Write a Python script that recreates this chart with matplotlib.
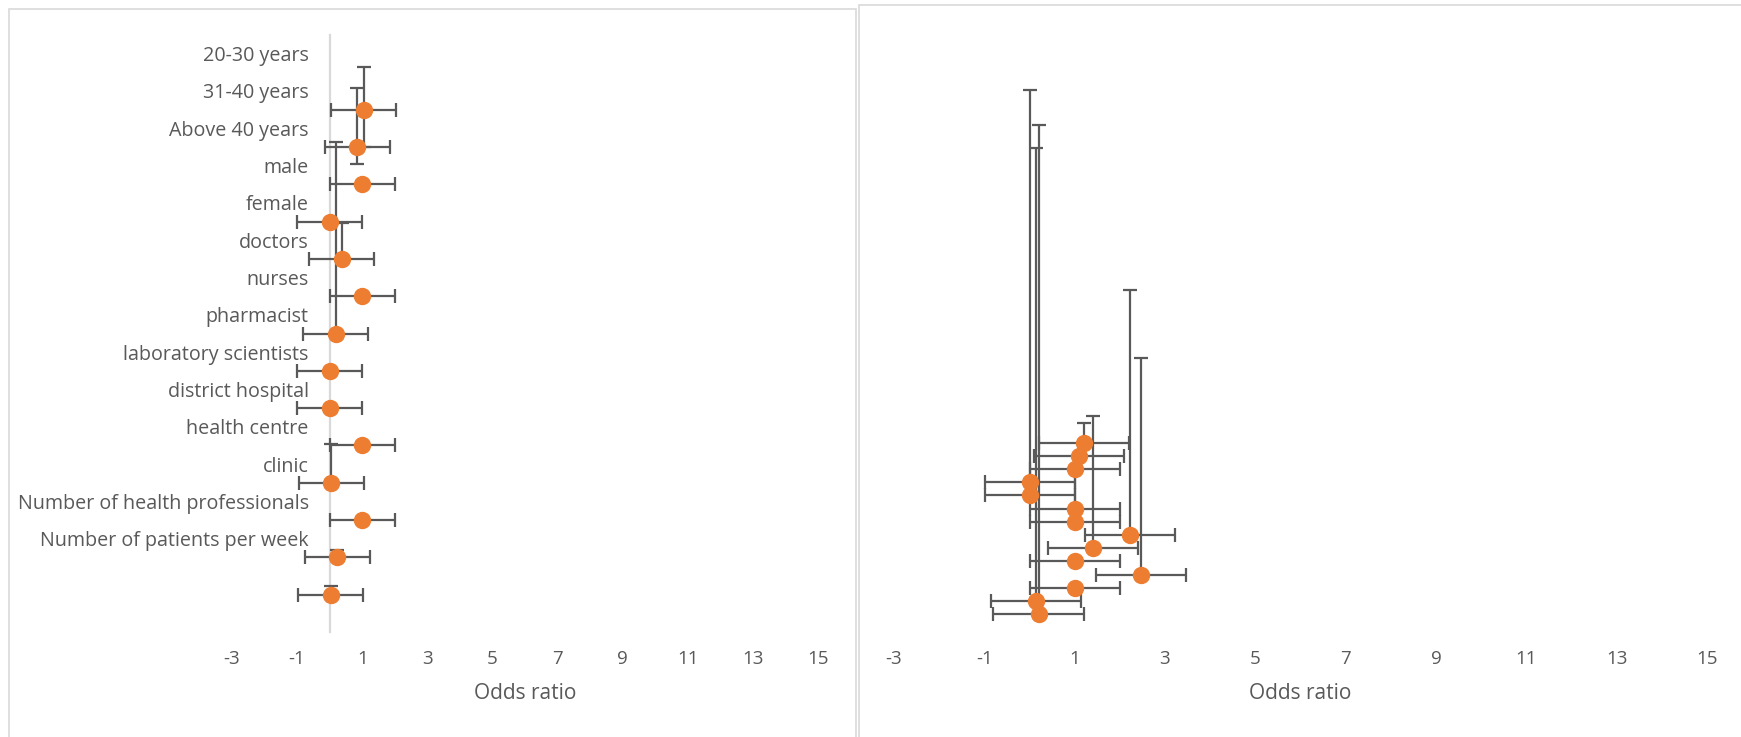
import matplotlib
matplotlib.use('Agg')
import matplotlib.pyplot as plt
from matplotlib.patches import Rectangle
import numpy as np

plt.rcParams['font.family'] = ['Open Sans', 'DejaVu Sans']
plt.rcParams['axes.unicode_minus'] = False

categories = ['20-30 years', '31-40 years', 'Above 40 years', 'male', 'female',
              'doctors', 'nurses', 'pharmacist', 'laboratory scientists',
              'district hospital', 'health centre', 'clinic',
              'Number of health professionals', 'Number of patients per week']

# row positions, top to bottom
rows = [14, 13, 12, 11, 10, 9, 8, 7, 6, 5, 4, 3, 2, 1]
label_rows = [15.5, 14.5, 13.5, 12.5, 11.5, 10.5, 9.5, 8.5, 7.5, 6.5, 5.5, 4.5, 3.5, 2.5]

# left chart
left_or = [1.05, 0.85, 1.0, 0.0, 0.37, 1.0, 0.18, 0.0, 0.0, 1.0, 0.05, 1.0, 0.23, 0.03]
left_xerr = [1, 1, 1, 1, 1, 1, 1, 1, 1, 1, 1, 1, 1, 1]
left_yerr_lo = [1.0, 0.46, 0, 0, 0, 0, 0, 0, 0, 0, 0, 0, 0, 0]
left_yerr_hi = [1.14, 1.57, 0, 0, 0.96, 0, 5.13, 0, 0, 0, 1.05, 0, 0.2, 0.23]

# right chart
right_or = [1.21, 1.10, 1.0, 0.01, 0.01, 1.0, 1.0, 2.22, 1.40, 1.0, 2.47, 1.0, 0.14, 0.2]
right_xerr = [1, 1, 1, 1, 1, 1, 1, 1, 1, 1, 1, 1, 1, 1]
right_yerr_lo = [0, 0, 0, 0, 0, 0, 0, 0, 0, 0, 0, 0, 0, 0]
right_yerr_hi = [1.46, 0, 0, 29.7, 0, 0, 4.0, 18.6, 10.0, 0, 16.4, 0, 34.3, 37.1]

xticks = [-3, -1, 1, 3, 5, 7, 9, 11, 13, 15]

txt = '#595959'
orange = '#ED7D31'
frame = '#d9d9d9'

fig = plt.figure(figsize=(17.41, 7.37), dpi=100)

# chart frames
fig.add_artist(Rectangle((9/1741, -0.02), 847/1741, 1.02 - 9/737, transform=fig.transFigure,
                         fill=False, edgecolor=frame, linewidth=1.2))
fig.add_artist(Rectangle((859/1741, -0.02), 900/1741, 1.02 - 5/737, transform=fig.transFigure,
                         fill=False, edgecolor=frame, linewidth=1.2))

ax1 = fig.add_axes([232/1741, 105/737, 586/1741, 597/737])
ax2 = fig.add_axes([894/1741, 105/737, 813/1741, 597/737])


def draw(ax, vals, xerr, ylo, yhi):
    ax.errorbar(vals, rows, xerr=xerr, yerr=[ylo, yhi], fmt='o', color=orange,
                markersize=11.5, ecolor='#595959', elinewidth=1.6, capsize=5,
                capthick=1.6, zorder=3)
    ax.set_xlim(-3, 15)
    ax.set_xticks(xticks)
    ax.tick_params(axis='x', length=0, pad=13, labelsize=13.5, labelcolor=txt)
    ax.set_xlabel('Odds ratio', fontsize=15, color=txt, labelpad=11)
    ax.patch.set_visible(False)


draw(ax1, left_or, left_xerr, left_yerr_lo, left_yerr_hi)
ax1.set_ylim(0, 16)
ax1.set_yticks(label_rows)
ax1.set_yticklabels(categories)
ax1.tick_params(axis='y', length=0, pad=15, labelsize=14.2, labelcolor=txt)
for s in ['top', 'right', 'bottom']:
    ax1.spines[s].set_visible(False)
ax1.spines['left'].set_position(('data', 0))
ax1.spines['left'].set_color(frame)
ax1.spines['left'].set_linewidth(1.6)
ax1.spines['left'].set_zorder(1)

draw(ax2, right_or, right_xerr, right_yerr_lo, right_yerr_hi)
ax2.set_ylim(-0.35, 44.9)
ax2.set_yticks([])
for s in ax2.spines.values():
    s.set_visible(False)

fig.savefig('out.png', dpi=100)
